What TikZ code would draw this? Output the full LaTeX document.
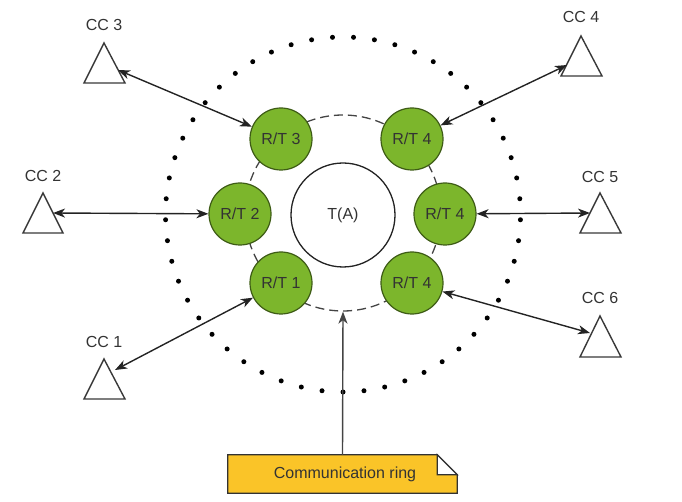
\documentclass[tikz,border=0pt]{standalone}
\usepackage{fontspec}
\setmainfont{Liberation Sans}
\usetikzlibrary{arrows.meta,calc}
\definecolor{rtfill}{RGB}{124,182,44}
\definecolor{rtdraw}{RGB}{62,92,22}
\definecolor{txt}{RGB}{51,51,51}
\definecolor{linec}{RGB}{35,35,35}
\definecolor{notefill}{RGB}{250,196,40}
\definecolor{notedraw}{RGB}{50,50,50}
\tikzset{
  rt/.style={circle, draw=rtdraw, fill=rtfill, line width=1.2pt, minimum size=62pt, inner sep=0pt, text=txt, font=\fontsize{16}{19}\selectfont},
  center/.style={circle, draw=linec, fill=white, line width=1.3pt, minimum size=104pt, inner sep=0pt, text=txt, font=\fontsize{16}{19}\selectfont},
  ringstyle/.style={circle, draw=linec!85, dash pattern=on 9pt off 5pt, line width=1.3pt, minimum size=196pt, inner sep=0pt},
  tri/.style={draw=linec!90, line width=1.4pt, fill=white, line join=miter},
  cclabel/.style={text=txt, font=\fontsize{16}{19}\selectfont, inner sep=0pt},
  link/.style={draw=linec, line width=1.4pt, {Stealth[length=12pt,width=9pt,inset=3.5pt]}-{Stealth[length=12pt,width=9pt,inset=3.5pt]}},
  onearrow/.style={draw=linec!85, line width=1.4pt, -{Stealth[length=12pt,width=9pt,inset=3.5pt]}},
  notetext/.style={text=txt, font=\fontsize{16}{19}\selectfont, minimum width=229pt, minimum height=38pt, inner sep=0pt}
}
\begin{document}
\begin{tikzpicture}[x=1pt,y=-1pt]
\useasboundingbox (0,0) rectangle (682,502);
% dotted outer ring
\foreach \i in {0,...,52}
  \fill[black] ($(343,214.5)+(90+\i*6.79245:177.5)$) circle (2.5);
% dashed ring
\node[ringstyle] (ring) at (343,213) {};
% centre
\node[center] (ta) at (343,215) {T(A)};
% R/T nodes
\node[rt] (rt3) at (281,139) {R/T 3};
\node[rt] (rt4a) at (412,139) {R/T 4};
\node[rt] (rt2) at (240,214) {R/T 2};
\node[rt] (rt4b) at (445,214) {R/T 4};
\node[rt] (rt1) at (281,283) {R/T 1};
\node[rt] (rt4c) at (412,283) {R/T 4};
% triangles
\draw[tri] (104,43) -- (84,83) -- (125,83) -- cycle;
\draw[tri] (581,36) -- (561,76) -- (602,76) -- cycle;
\draw[tri] (43,193) -- (23,233) -- (63,233) -- cycle;
\draw[tri] (600,193) -- (580,233) -- (621,233) -- cycle;
\draw[tri] (104,359) -- (84,399) -- (125,399) -- cycle;
\draw[tri] (600,316) -- (580,357) -- (621,357) -- cycle;
% labels
\node[cclabel] (l3) at (104,25) {CC 3};
\node[cclabel] (l4) at (581,17) {CC 4};
\node[cclabel] (l2) at (43,176) {CC 2};
\node[cclabel] (l5) at (600,177) {CC 5};
\node[cclabel] (l1) at (104,342) {CC 1};
\node[cclabel] (l6) at (600,298) {CC 6};
% triangle attach points
\coordinate (cc3) at (118,70);
\coordinate (cc4) at (567,65);
\coordinate (cc2) at (53,213);
\coordinate (cc5) at (590,213);
\coordinate (cc1) at (115,370);
\coordinate (cc6) at (590,333);
% links
\draw[link] (cc3) -- (rt3);
\draw[link] (cc4) -- (rt4a);
\draw[link] (cc2) -- (rt2);
\draw[link] (cc5) -- (rt4b);
\draw[link] (cc1) -- (rt1);
\draw[link] (cc6) -- (rt4c);
% note
\node[notetext] (note) at (342.5,474) {};
\draw[notedraw, line width=1.2pt, fill=notefill]
  (note.south west) -- (note.north west) -- ($(note.north east)+(-20,0)$)
  -- ($(note.north east)+(0,20)$) -- (note.south east) -- cycle;
\draw[notedraw, line width=1.2pt, fill=white]
  ($(note.north east)+(-20,0)$) -- ($(note.north east)+(-20,20)$) -- ($(note.north east)+(0,20)$) -- cycle;
\node[notetext] (notelabel) at (note.center) {\hspace{5pt}Communication ring};
\draw[onearrow] (note.north) -- (ring.south);
\end{tikzpicture}
\end{document}
